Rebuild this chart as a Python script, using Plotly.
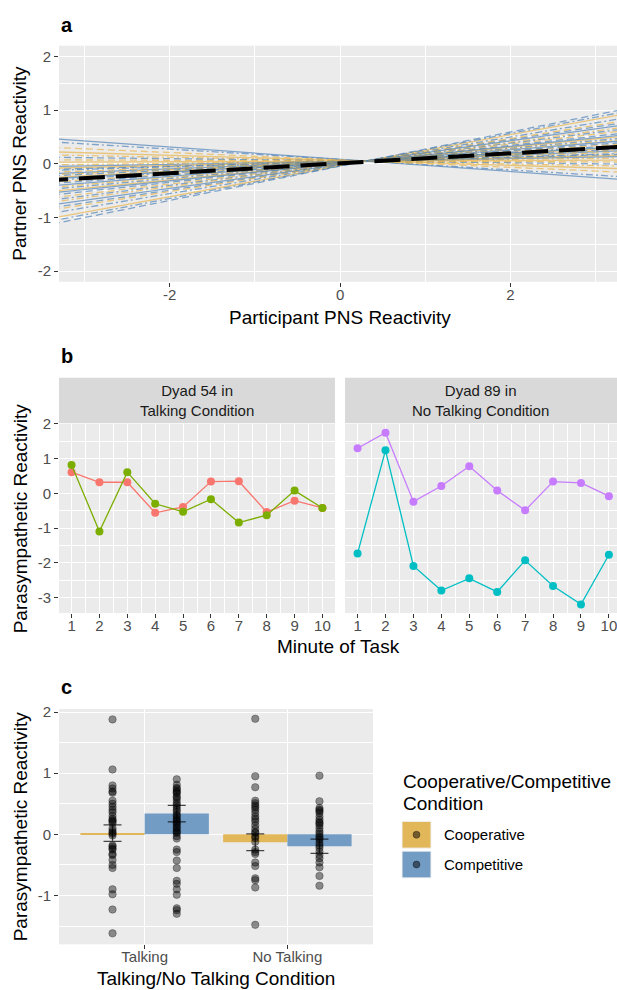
import plotly.graph_objects as go

W, H = 617, 990
FONT = "Liberation Sans, Arial, Helvetica, sans-serif"

# ---------------- Panel a data ----------------
line_slopes = [-0.114, -0.097, -0.069, -0.047, -0.031, -0.019, -0.006, 0.006, 0.019, 0.028,
               0.036, 0.042, 0.047, 0.056, 0.064, 0.069, 0.075, 0.083, 0.089, 0.097,
               0.106, 0.114, 0.125, 0.133, 0.142, 0.153, 0.161, 0.172, 0.186, 0.197,
               0.208, 0.222, 0.236, 0.247, 0.264, 0.289, 0.303, 0.319]
line_intercepts = [0.084, 0.079, 0.071, 0.064, 0.059, 0.056, 0.052, 0.048, 0.044, 0.042,
                   0.039, 0.037, 0.036, 0.033, 0.031, 0.029, 0.028, 0.025, 0.023, 0.021,
                   0.018, 0.016, 0.013, 0.010, 0.007, 0.004, 0.002, -0.002, -0.006, -0.009,
                   -0.012, -0.017, -0.021, -0.024, -0.029, -0.037, -0.041, -0.046]
line_condition = ["Competitive", "Competitive", "Cooperative", "Cooperative", "Cooperative",
                  "Competitive", "Cooperative", "Cooperative", "Cooperative", "Competitive",
                  "Cooperative", "Competitive", "Competitive", "Cooperative", "Competitive",
                  "Cooperative", "Competitive", "Cooperative", "Competitive", "Competitive",
                  "Cooperative", "Competitive", "Competitive", "Cooperative", "Competitive",
                  "Cooperative", "Competitive", "Competitive", "Cooperative", "Competitive",
                  "Cooperative", "Competitive", "Competitive", "Cooperative", "Competitive",
                  "Cooperative", "Competitive", "Competitive"]
line_type = ["solid", "dotdash", "dashed", "solid", "dotdash", "dashed", "dashed", "solid",
             "dotdash", "solid", "solid", "dashed", "dotdash", "dashed", "solid", "dotdash",
             "dashed", "solid", "solid", "dotdash", "dashed", "dashed", "solid", "dotdash",
             "dotdash", "solid", "solid", "dashed", "dashed", "dotdash", "dotdash", "solid",
             "dashed", "dashed", "dotdash", "solid", "dotdash", "dashed"]
fixed_slope = 0.093
fixed_intercept = 0.008
x_span = [-3.5, 3.5]
a_xticks = [-2, 0, 2]
a_xticklabels = ["-2", "0", "2"]
a_yticks = [-2, -1, 0, 1, 2]
a_yticklabels = ["-2", "-1", "0", "1", "2"]

# ---------------- Panel b data ----------------
minutes = [1, 2, 3, 4, 5, 6, 7, 8, 9, 10]
dyad54_partner1 = [0.61, 0.32, 0.32, -0.56, -0.39, 0.34, 0.35, -0.54, -0.21, -0.42]
dyad54_partner2 = [0.82, -1.10, 0.61, -0.30, -0.53, -0.17, -0.84, -0.63, 0.08, -0.42]
dyad89_partner1 = [-1.73, 1.24, -2.09, -2.80, -2.45, -2.84, -1.93, -2.67, -3.20, -1.77]
dyad89_partner2 = [1.30, 1.75, -0.24, 0.21, 0.78, 0.08, -0.49, 0.34, 0.30, -0.08]
facet_titles = ["Dyad 54 in<br>Talking Condition", "Dyad 89 in<br>No Talking Condition"]
b_yticks = [-3, -2, -1, 0, 1, 2]
b_yticklabels = ["-3", "-2", "-1", "0", "1", "2"]

# ---------------- Panel c data ----------------
talk_categories = ["Talking", "No Talking"]
coop_means = [0.02, -0.13]
comp_means = [0.34, -0.195]
coop_se = [0.135, 0.138]
comp_se = [0.135, 0.117]
c_yticks = [-1, 0, 1, 2]
c_yticklabels = ["-1", "0", "1", "2"]
talking_coop_pts = [1.88, 1.06, 0.80, 0.75, 0.70, 0.68, 0.55, 0.50, 0.45, 0.40, 0.36, 0.30,
                    0.25, 0.23, 0.21, 0.18, 0.10, 0.06, 0.03, 0.01, -0.02, -0.18, -0.20,
                    -0.23, -0.25, -0.32, -0.34, -0.42, -0.50, -0.55, -0.90, -0.98, -1.23, -1.62]
talking_comp_pts = [0.90, 0.81, 0.76, 0.74, 0.71, 0.69, 0.67, 0.62, 0.60, 0.56, 0.51, 0.48,
                    0.44, 0.40, 0.37, 0.32, 0.30, 0.26, 0.24, 0.21, 0.18, 0.16, 0.12, 0.10,
                    0.06, 0.04, 0.02, -0.03, -0.07, -0.25, -0.29, -0.43, -0.55, -0.76, -0.81,
                    -0.90, -0.99, -1.21, -1.24, -1.30]
notalk_coop_pts = [1.89, 0.95, 0.77, 0.55, 0.51, 0.47, 0.44, 0.40, 0.35, 0.29, 0.25, 0.21,
                   0.15, 0.09, 0.04, 0.02, -0.03, -0.06, -0.12, -0.25, -0.29, -0.32, -0.46,
                   -0.52, -0.72, -0.75, -0.87, -1.48]
notalk_comp_pts = [0.96, 0.54, 0.43, 0.40, 0.38, 0.35, 0.29, 0.24, 0.20, 0.18, 0.15, 0.10,
                   0.05, 0.01, -0.03, -0.06, -0.09, -0.14, -0.18, -0.22, -0.28, -0.34, -0.39,
                   -0.46, -0.54, -0.68, -0.84]

# ---------------- styling ----------------
COOP_LINE = "rgba(231,178,70,0.68)"
COMP_LINE = "rgba(70,125,182,0.66)"
COOP_FILL = "#E2B75A"
COMP_FILL = "#729CC4"
dash_map = {"solid": "solid", "dashed": "7px,4px", "dotdash": "2px,3px,7px,3px"}
cond_color = {"Cooperative": COOP_LINE, "Competitive": COMP_LINE}
TITLE_SIZE = 19
TICK_SIZE = 15

def px(x):
    return x / W

def py(y):
    return 1 - y / H

fig = go.Figure()

# Panel a lines
for s, b, c, t in zip(line_slopes, line_intercepts, line_condition, line_type):
    fig.add_trace(go.Scatter(x=x_span, y=[b + s * xv for xv in x_span], mode="lines",
                             line=dict(color=cond_color[c], width=1.3, dash=dash_map[t]),
                             showlegend=False, hoverinfo="skip", xaxis="x", yaxis="y"))
fig.add_trace(go.Scatter(x=x_span, y=[fixed_intercept + fixed_slope * xv for xv in x_span],
                         mode="lines", line=dict(color="black", width=4, dash="26px,11px"),
                         showlegend=False, xaxis="x", yaxis="y"))

# Panel b
for ys, col, xa, ya in [(dyad54_partner1, "#F8766D", "x2", "y2"),
                        (dyad54_partner2, "#7CAE00", "x2", "y2"),
                        (dyad89_partner1, "#00BFC4", "x3", "y3"),
                        (dyad89_partner2, "#C77CFF", "x3", "y3")]:
    fig.add_trace(go.Scatter(x=minutes, y=ys, mode="lines+markers",
                             line=dict(color=col, width=1.3),
                             marker=dict(color=col, size=8),
                             showlegend=False, xaxis=xa, yaxis=ya, cliponaxis=False))

# Panel c
cat_pos = [i + 1 for i in range(len(talk_categories))]
bar_w = 0.45
coop_x = [p - bar_w / 2 for p in cat_pos]
comp_x = [p + bar_w / 2 for p in cat_pos]
fig.add_trace(go.Bar(x=coop_x, y=coop_means, width=bar_w, marker=dict(color=COOP_FILL, line=dict(width=0)),
                     showlegend=False, xaxis="x4", yaxis="y4"))
fig.add_trace(go.Bar(x=comp_x, y=comp_means, width=bar_w, marker=dict(color=COMP_FILL, line=dict(width=0)),
                     showlegend=False, xaxis="x4", yaxis="y4"))

pt_marker = dict(color="rgba(0,0,0,0.42)", size=7.5, line=dict(color="rgba(0,0,0,0.35)", width=0.8))
for xc, pts in [(coop_x[0], talking_coop_pts), (comp_x[0], talking_comp_pts),
                (coop_x[1], notalk_coop_pts), (comp_x[1], notalk_comp_pts)]:
    fig.add_trace(go.Scatter(x=[xc] * len(pts), y=pts, mode="markers", marker=pt_marker,
                             showlegend=False, xaxis="x4", yaxis="y4"))

fig.add_trace(go.Scatter(x=coop_x + comp_x, y=coop_means + comp_means, mode="markers",
                         marker=dict(size=0.1, color="rgba(0,0,0,0)"),
                         error_y=dict(type="data", array=coop_se + comp_se, visible=True,
                                      color="rgba(0,0,0,0.7)", thickness=1.2, width=9),
                         showlegend=False, xaxis="x4", yaxis="y4"))

# ---------------- axes ----------------
tickfont = dict(family=FONT, size=TICK_SIZE, color="#4D4D4D")
grid_common = dict(showgrid=True, gridcolor="white", gridwidth=1.1, zeroline=False,
                   ticks="outside", ticklen=4, tickcolor="#333333", tickwidth=1,
                   tickfont=tickfont, showline=False)
minor_y = dict(dtick=0.5, tick0=0, showgrid=True, gridcolor="white", gridwidth=0.5, ticks="")
XSTAND = -5

fig.update_layout(
    xaxis=dict(domain=[px(59), 1.0], anchor="y", range=[-3.3, 3.25],
               tickvals=a_xticks, ticktext=a_xticklabels, ticklabelstandoff=XSTAND,
               minor=dict(dtick=1, tick0=0, showgrid=True, gridcolor="white", gridwidth=0.5, ticks=""),
               **grid_common),
    yaxis=dict(domain=[py(276), py(38)], anchor="x", range=[-2.2, 2.2],
               tickvals=a_yticks, ticktext=a_yticklabels, minor=minor_y, **grid_common),
    xaxis2=dict(domain=[px(59), px(335)], anchor="y2", range=[0.55, 10.45], tickvals=minutes,
                ticklabelstandoff=XSTAND,
                minor=dict(dtick=0.5, tick0=0.5, showgrid=True, gridcolor="white", gridwidth=0.5, ticks=""),
                **grid_common),
    yaxis2=dict(domain=[py(610), py(419)], anchor="x2", range=[-3.45, 2.01],
                tickvals=b_yticks, ticktext=b_yticklabels, minor=minor_y, **grid_common),
    xaxis3=dict(domain=[px(345), 1.0], anchor="y3", range=[0.55, 10.29], tickvals=minutes,
                ticklabelstandoff=XSTAND, ticklabeloverflow="allow",
                minor=dict(dtick=0.5, tick0=0.5, showgrid=True, gridcolor="white", gridwidth=0.5, ticks=""),
                **grid_common),
    yaxis3=dict(domain=[py(610), py(419)], anchor="x3", range=[-3.45, 2.01], tickvals=b_yticks,
                showticklabels=False, minor=minor_y,
                showgrid=True, gridcolor="white", gridwidth=1.1, zeroline=False, ticks=""),
    xaxis4=dict(domain=[px(59), px(373)], anchor="y4", range=[0.4, 2.6], tickvals=cat_pos,
                ticktext=talk_categories, ticklabelstandoff=XSTAND, **grid_common),
    yaxis4=dict(domain=[py(944), py(706.7)], anchor="x4", range=[-1.80, 2.05],
                tickvals=c_yticks, ticktext=c_yticklabels, minor=minor_y, **grid_common),
)

# ---------------- annotations / shapes ----------------
ann = []
shapes = []

def add_text(text, x, y, size=TITLE_SIZE, color="black", angle=0, xanchor="center", bold=False):
    ann.append(dict(text=("<b>%s</b>" % text) if bold else text, x=px(x), y=py(y),
                    xref="paper", yref="paper", showarrow=False, textangle=angle,
                    xanchor=xanchor, yanchor="middle",
                    font=dict(family=FONT, size=size, color=color)))

add_text("a", 59, 17, size=20, xanchor="left", bold=True)
add_text("b", 59, 351, size=20, xanchor="left", bold=True)
add_text("c", 59, 685, size=20, xanchor="left", bold=True)

add_text("Partner PNS Reactivity", 20, 157, angle=-90)
add_text("Participant PNS Reactivity", 340, 312)
add_text("Parasympathetic Reactivity", 20, 514.5, angle=-90)
add_text("Minute of Task", 338, 644)
add_text("Parasympathetic Reactivity", 20, 825, angle=-90)
add_text("Talking/No Talking Condition", 216, 978)

# strips
for (x0, x1), title in zip([(59, 335), (345, 617)], facet_titles):
    shapes.append(dict(type="rect", xref="paper", yref="paper", x0=px(x0), x1=px(x1),
                       y0=py(418.5), y1=py(372.7), fillcolor="#D9D9D9", line=dict(width=0),
                       layer="below"))
    ann.append(dict(text=title, x=px((x0 + x1) / 2), y=py(395.6), xref="paper", yref="paper",
                    showarrow=False, xanchor="center", yanchor="middle",
                    font=dict(family=FONT, size=15, color="#1A1A1A")))

# legend (manual)
add_text("Cooperative/Competitive", 401, 780, xanchor="left")
add_text("Condition", 401, 802, xanchor="left")
for (ytop, ybot), fill, lab in [((820, 847), COOP_FILL, "Cooperative"), ((850, 877), COMP_FILL, "Competitive")]:
    shapes.append(dict(type="rect", xref="paper", yref="paper", x0=px(402), x1=px(431),
                       y0=py(ybot), y1=py(ytop), fillcolor=fill, line=dict(color="#F2F2F2", width=1)))
    yc = (ytop + ybot) / 2
    shapes.append(dict(type="circle", xref="paper", yref="paper", x0=px(416.5 - 3.5), x1=px(416.5 + 3.5),
                       y0=py(yc + 3.5), y1=py(yc - 3.5), fillcolor="rgba(0,0,0,0.5)",
                       line=dict(color="rgba(0,0,0,0.4)", width=0.8)))
    add_text(lab, 442, yc, size=15, xanchor="left")

fig.update_layout(
    width=W, height=H, autosize=False,
    margin=dict(l=0, r=0, t=0, b=0),
    paper_bgcolor="white", plot_bgcolor="#EBEBEB",
    barmode="overlay", showlegend=False,
    annotations=ann, shapes=shapes,
    font=dict(family=FONT),
)

fig.write_html("out.html", config={"displayModeBar": False},
               post_script="document.body.style.margin='0';document.body.style.overflow='hidden';")
